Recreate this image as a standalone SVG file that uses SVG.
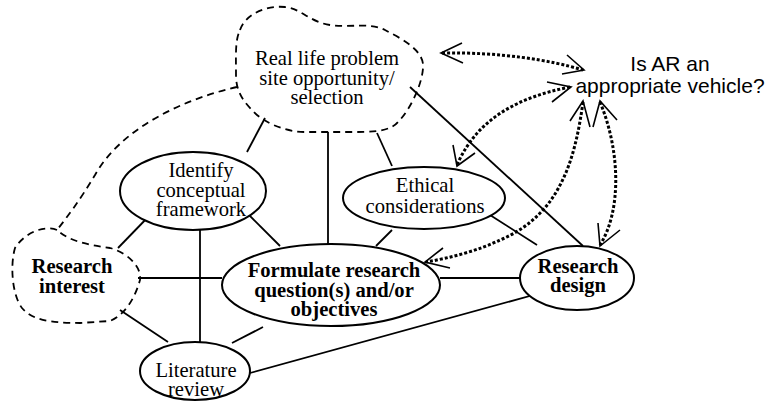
<svg xmlns="http://www.w3.org/2000/svg" width="767" height="405" viewBox="0 0 767 405">
  <style>
    .node { fill: #fff; stroke: #000; stroke-width: 2; }
    .cloud { fill: none; stroke: #000; stroke-width: 1.8; stroke-dasharray: 7 5; }
    .link { fill: none; stroke: #000; stroke-width: 1.8; }
    .dots { fill: none; stroke: #000; stroke-width: 3; stroke-dasharray: 3 2; }
    .head { fill: none; stroke: #000; stroke-width: 1.6; }
    text.serif { font-family: 'Liberation Serif', 'Times New Roman', 'DejaVu Serif', serif; font-size: 20.6px; fill: #000; text-anchor: middle; }
    text.bold { font-weight: bold; }
    text.sans { font-family: 'Liberation Sans', Arial, sans-serif; font-size: 21px; fill: #000; text-anchor: middle; }
  </style>

  <!-- solid and dashed links between the topics -->
  <g id="connectors">
    <path class="cloud" d="M237,87 C180,100 120,130 95,175 C80,200 68,216 57,230"/>
    <line class="link" x1="265" y1="118" x2="247" y2="152"/>
    <line class="link" x1="328" y1="132" x2="328" y2="245"/>
    <line class="link" x1="377" y1="133" x2="392" y2="166"/>
    <line class="link" x1="410" y1="87" x2="583" y2="246"/>
    <line class="link" x1="150" y1="215" x2="118" y2="248"/>
    <line class="link" x1="248" y1="214" x2="280" y2="246"/>
    <line class="link" x1="200" y1="230" x2="200" y2="342"/>
    <line class="link" x1="138" y1="278" x2="222" y2="278"/>
    <line class="link" x1="120" y1="310" x2="168" y2="342"/>
    <line class="link" x1="232" y1="343" x2="263" y2="327"/>
    <line class="link" x1="392" y1="230" x2="376" y2="246"/>
    <line class="link" x1="490" y1="215" x2="537" y2="245"/>
    <line class="link" x1="440" y1="278" x2="520" y2="278"/>
    <line class="link" x1="250" y1="373" x2="537" y2="294"/>

    <!-- dotted two-way links to the question -->
    <path class="dots" d="M442,53 C500,52 550,60 583,70"/>
    <polyline class="head" points="462,43 441,53 463,63"/>
    <polyline class="head" points="567,55 584,70 562,74"/>

    <path class="dots" d="M570,87 C520,97 478,117 457,165"/>
    <polyline class="head" points="547,82 571,87 552,102"/>
    <polyline class="head" points="453,145 457,166 475,153"/>

    <path class="dots" d="M583,102 C575,160 560,215 500,240 C480,250 450,258 426,262"/>
    <polyline class="head" points="570,121 583,101 590,127"/>
    <polyline class="head" points="443,248 425,262 450,268"/>

    <path class="dots" d="M600,102 C620,150 622,210 600,245"/>
    <polyline class="head" points="593,127 600,101 617,120"/>
    <polyline class="head" points="598,223 600,246 620,230"/>
  </g>

  <g id="real-life-problem">
    <path class="cloud" d="M240,30 C245,15 265,5 285,7 C300,8 310,22 330,25 C350,28 370,22 385,30 C400,38 425,50 423,68 C422,85 410,110 398,122 C390,132 370,132 350,132 L305,132 C285,132 262,122 252,110 C242,100 236,90 236,75 C236,55 235,40 240,30 Z"/>
    <text class="serif" x="327" y="65">Real life problem</text>
    <text class="serif" x="327" y="85">site opportunity/</text>
    <text class="serif" x="327" y="104">selection</text>
  </g>

  <g id="research-interest">
    <path class="cloud" d="M57,230 C45,225 25,232 15,248 C10,265 12,295 22,308 C32,320 50,323 80,323 L110,321 C125,315 135,298 140,280 C142,265 125,252 110,248 C90,245 70,242 57,230 Z"/>
    <text class="serif bold" x="72" y="273">Research</text>
    <text class="serif bold" x="72" y="293">interest</text>
  </g>

  <g id="conceptual-framework">
    <ellipse class="node" cx="193" cy="191" rx="73" ry="39"/>
    <text class="serif" x="201" y="177">Identify</text>
    <text class="serif" x="201" y="197">conceptual</text>
    <text class="serif" x="201" y="216">framework</text>
  </g>

  <g id="ethical-considerations">
    <ellipse class="node" cx="424" cy="198" rx="81" ry="31"/>
    <text class="serif" x="425" y="192">Ethical</text>
    <text class="serif" x="425" y="213">considerations</text>
  </g>

  <g id="research-questions">
    <ellipse class="node" cx="331" cy="285" rx="109" ry="41"/>
    <text class="serif bold" x="334" y="277">Formulate research</text>
    <text class="serif bold" x="334" y="297">question(s) and/or</text>
    <text class="serif bold" x="334" y="316">objectives</text>
  </g>

  <g id="research-design">
    <ellipse class="node" cx="577" cy="278" rx="57" ry="32"/>
    <text class="serif bold" x="578" y="273">Research</text>
    <text class="serif bold" x="578" y="292">design</text>
  </g>

  <g id="literature-review">
    <ellipse class="node" cx="195" cy="371" rx="55" ry="29"/>
    <text class="serif" x="196" y="377">Literature</text>
    <text class="serif" x="196" y="396">review</text>
  </g>

  <g id="question">
    <text class="sans" x="670" y="71">Is AR an</text>
    <text class="sans" x="670" y="93">appropriate vehicle?</text>
  </g>
</svg>
